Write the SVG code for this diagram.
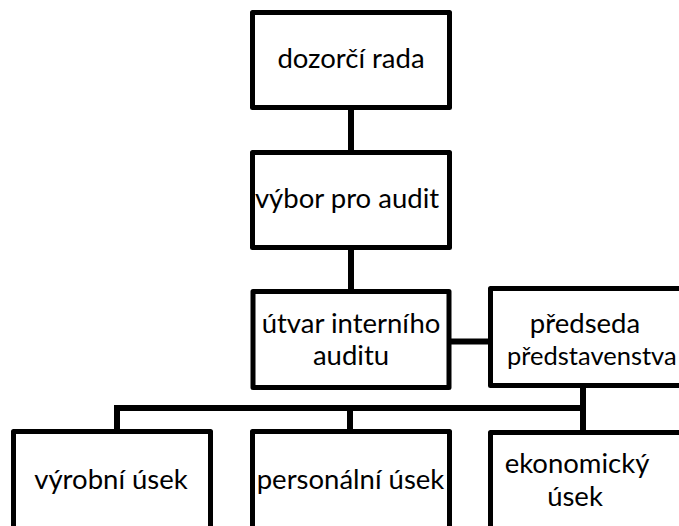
<svg xmlns="http://www.w3.org/2000/svg" width="679" height="526" viewBox="0 0 679 526">
  <style>
    .box { fill: #ffffff; stroke: #000000; stroke-width: 5; stroke-linejoin: round; }
    .link { fill: none; stroke: #000000; stroke-width: 6; }
    .lbl { font-family: Lato, "Open Sans", "Liberation Sans", sans-serif; font-size: 27.5px; fill: #000000; text-anchor: middle; }
  </style>
  <rect width="679" height="526" fill="#ffffff"/>

  <!-- connectors -->
  <g id="connectors">
    <path class="link" d="M351,110 V150"/>
    <path class="link" d="M351,250 V289"/>
    <path class="link" d="M451,341.5 H488"/>
    <path class="link" d="M117,431 V408 H583 V388 M583,408 V430"/>
    <path class="link" d="M350,408 V429"/>
  </g>

  <!-- supervisory board -->
  <g id="dozorci-rada">
    <rect class="box" x="252.5" y="12.5" width="197" height="95"/>
    <text class="lbl" x="351" y="68">dozorčí rada</text>
  </g>

  <!-- audit committee -->
  <g id="vybor-pro-audit">
    <rect class="box" x="252.5" y="152.5" width="197" height="95"/>
    <text class="lbl" x="347" y="208">výbor pro audit</text>
  </g>

  <!-- internal audit unit -->
  <g id="utvar-interniho-auditu">
    <rect class="box" x="253" y="291.5" width="196" height="96"/>
    <text class="lbl" x="351" y="333">útvar interního</text>
    <text class="lbl" x="351" y="365">auditu</text>
  </g>

  <!-- chairman of the board -->
  <g id="predseda-predstavenstva">
    <rect class="box" x="490.5" y="288.5" width="197" height="97"/>
    <text class="lbl" x="585" y="333">předseda</text>
    <text class="lbl" x="507" y="365" style="text-anchor:start;font-size:25.5px">představenstva</text>
  </g>

  <!-- departments -->
  <g id="vyrobni-usek">
    <rect class="box" x="13.5" y="431.5" width="197" height="110"/>
    <text class="lbl" x="111" y="489">výrobní úsek</text>
  </g>

  <g id="personalni-usek">
    <rect class="box" x="252.5" y="431.5" width="197" height="110"/>
    <text class="lbl" x="350.5" y="489">personální úsek</text>
  </g>

  <g id="ekonomicky-usek">
    <rect class="box" x="490.5" y="432.5" width="197" height="110"/>
    <text class="lbl" x="577" y="473">ekonomický</text>
    <text class="lbl" x="575" y="506">úsek</text>
  </g>
</svg>
